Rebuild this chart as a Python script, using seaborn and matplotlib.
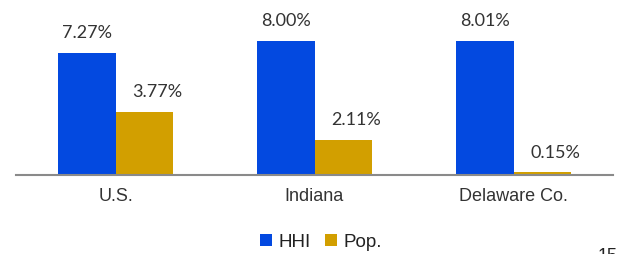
import matplotlib
matplotlib.use("Agg")
import matplotlib.pyplot as plt
from matplotlib.patches import Patch
import seaborn as sns
import pandas as pd

categories = ["U.S.", "Indiana", "Delaware Co."]
hhi = [7.27, 8.00, 8.01]
pop = [3.77, 2.11, 0.15]
series = ["HHI", "Pop."]

df = pd.DataFrame({
    "region": categories * 2,
    "series": [series[0]] * 3 + [series[1]] * 3,
    "value": hhi + pop,
})

sns.set_theme(style="white")
plt.rcParams["font.family"] = ["Liberation Sans", "DejaVu Sans"]

colors = {"HHI": "#0349e0", "Pop.": "#d29f00"}

W, H = 619, 255
fig = plt.figure(figsize=(W / 100, H / 100), dpi=100)
ax = fig.add_axes([16 / W, (H - 176) / H, (613 - 16) / W, 176 / H])

sns.barplot(data=df, x="region", y="value", hue="series", hue_order=series,
            palette=colors, width=0.58, gap=0, linewidth=0, legend=False,
            saturation=1, ax=ax)

ax.set_xlim(-0.5, 2.5)
ax.set_ylim(0, 10.5)
ax.set_xlabel("")
ax.set_ylabel("")
ax.set_yticks([])
for s in ["top", "right", "left"]:
    ax.spines[s].set_visible(False)
ax.spines["bottom"].set_color("#8a8a8a")
ax.spines["bottom"].set_linewidth(1.5)
ax.tick_params(axis="x", which="major", length=0, pad=8.5, labelsize=13,
               labelcolor="#333333")
ax.set_xticks([-0.5, 1.5], minor=True)
ax.tick_params(axis="x", which="minor", length=4, width=1.5, color="#8a8a8a",
               direction="out")

offsets = [(0, 15), (9.5, 15)]
for cont, off in zip(ax.containers, offsets):
    for bar in cont:
        h = bar.get_height()
        ax.annotate(f"{h:.2f}%", (bar.get_x() + bar.get_width() / 2, h),
                    xytext=off, textcoords="offset points", ha="center",
                    va="center", fontsize=13, color="#333333",
                    family=["Lato", "DejaVu Sans"], annotation_clip=False)

handles = [Patch(facecolor=colors[s], edgecolor="none", label=s) for s in series]
fig.legend(handles=handles, loc="center", bbox_to_anchor=(321 / W, 1 - 243 / H),
           ncol=2, frameon=False, fontsize=13.5, handlelength=0.64,
           handleheight=0.64, handletextpad=0.35, columnspacing=0.8,
           borderpad=0, labelcolor="#222222")

fig.text(598 / W, 1 - 248 / H, "15", va="top", ha="left", fontsize=13,
         color="#222222")

fig.savefig("out.png", dpi=100)
